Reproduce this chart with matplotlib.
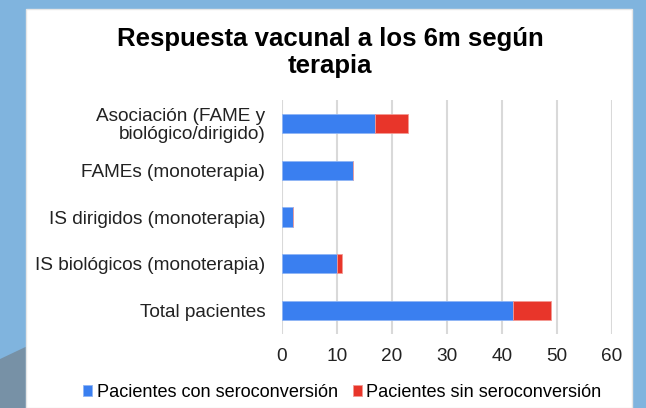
import matplotlib.pyplot as plt
from matplotlib.patches import Rectangle, Polygon

plt.rcParams['font.family'] = ['Liberation Sans', 'DejaVu Sans']

categorias = ['Total pacientes', 'IS biológicos (monoterapia)', 'IS dirigidos (monoterapia)',
              'FAMEs (monoterapia)', 'Asociación (FAME y\nbiológico/dirigido)']
con_seroconversion = [42, 10, 2, 13, 17]
sin_seroconversion = [7, 1, 0, 0, 6]
series = ['Pacientes con seroconversión', 'Pacientes sin seroconversión']
ticks_x = [0, 10, 20, 30, 40, 50, 60]

fig = plt.figure(figsize=(6.46, 4.08), dpi=100)
fig.patch.set_facecolor('#80b4de')
# slide background corner + white chart panel (behind the axes)
fig.patches.append(Polygon([(0, 0), (0, 0.12), (0.04, 0.15), (0.04, 0)], closed=True,
                           transform=fig.transFigure, facecolor='#7791a6', edgecolor='none',
                           zorder=-10))
fig.patches.append(Rectangle((0.040, 0), 0.938, 0.978, transform=fig.transFigure,
                             facecolor='white', edgecolor='#e6e6e6', lw=1, zorder=-9))

ax = fig.add_axes([0.4365, 0.181, 0.5105, 0.574])
ax.patch.set_alpha(0)
y = range(len(categorias))
ax.barh(y, con_seroconversion, height=0.41, color='#3a7ff0', edgecolor='#8fb5f5', lw=0.6,
        label=series[0], zorder=3)
ax.barh(y, sin_seroconversion, left=con_seroconversion, height=0.41, color='#e8352a',
        edgecolor='#f39a93', lw=0.6, label=series[1], zorder=3)

ax.set_xlim(0, 60)
ax.set_ylim(-0.5, 4.5)
ax.set_xticks(ticks_x)
ax.set_yticks(list(y))
ax.set_yticklabels(categorias, fontsize=13.7, color='#222222', linespacing=1.05)
ax.tick_params(axis='x', length=0, pad=10, labelsize=13.7, colors='#222222')
ax.tick_params(axis='y', length=0, pad=12)
ax.grid(axis='x', color='#d9d9d9', lw=1.5, zorder=0)
for s in ax.spines.values():
    s.set_visible(False)

fig.text(0.511, 0.935, 'Respuesta vacunal a los 6m según\nterapia', ha='center', va='top',
         fontsize=18.5, fontweight='bold', linespacing=1.2)

fig.legend(loc='center', bbox_to_anchor=(0.53, 0.038), ncol=2, frameon=False, fontsize=13.1,
           handlelength=0.5, handleheight=0.6, handletextpad=0.25, columnspacing=0.8)

plt.savefig('out.png', dpi=100, facecolor=fig.get_facecolor())
